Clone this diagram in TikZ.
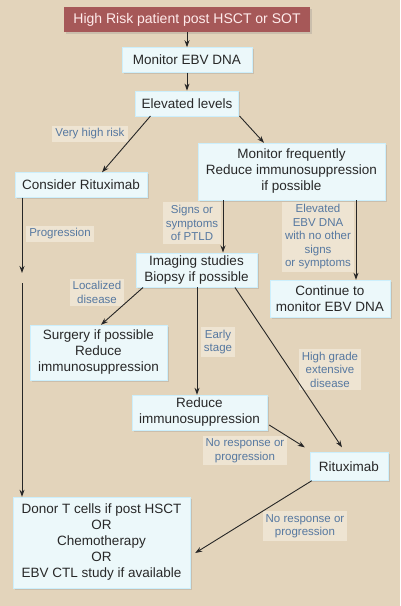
\documentclass[tikz,border=0pt]{standalone}
\usepackage{fontspec}
\setmainfont{Liberation Sans}
\usepackage{xcolor}
\usetikzlibrary{arrows.meta, positioning, shadows}
\definecolor{paper}{RGB}{227,212,187}
\definecolor{boxfill}{RGB}{236,248,250}
\definecolor{boxtext}{RGB}{40,40,40}
\definecolor{riskred}{RGB}{166,88,88}
\definecolor{notebg}{RGB}{238,228,210}
\definecolor{noteblue}{RGB}{86,120,160}

\begin{document}
\begin{tikzpicture}[x=1pt, y=-1pt,
        box/.style={rectangle, draw=white!80!cyan, fill=boxfill, align=center, text=boxtext, inner xsep=5pt, inner ysep=3pt, minimum height=25pt, font=\fontsize{13.5}{16}\selectfont, drop shadow={opacity=0.25, shadow xshift=1.5pt, shadow yshift=-1.5pt}},
        riskbox/.style={rectangle, fill=riskred, text=white!92!red, align=center, minimum height=25pt, font=\fontsize{14}{16}\selectfont, drop shadow={opacity=0.25, shadow xshift=1.5pt, shadow yshift=-1.5pt}},
        note/.style={rectangle, fill=notebg, text=noteblue, align=center, inner sep=3pt, font=\fontsize{11.5}{13.5}\selectfont},
        arrow/.style={-{Stealth[length=7pt, width=5pt]}, line width=0.9pt, draw=black!85},
        link/.style={line width=0.9pt, draw=black!85}
    ]
        \fill[paper] (0,0) rectangle (400,606);
        \useasboundingbox (0,0) rectangle (400,606);

        \node[riskbox, minimum width=246pt] (risk) at (187,19.5) {High Risk patient post HSCT or SOT};
        \node[box, minimum width=130pt, below=15pt of risk] (mon) {Monitor EBV DNA};
        \node[box, minimum width=103pt, below=18pt of mon] (elev) {Elevated levels};
        \node[box, minimum width=132pt] (consider) at (81,185) {Consider Rituximab};
        \node[box, minimum width=187pt, minimum height=57pt] (monf) at (291.5,171.5) {Monitor frequently\\Reduce immunosuppression\\if possible};
        \node[box, minimum width=121pt, minimum height=34pt] (img) at (196.5,270) {Imaging studies\\Biopsy if possible};
        \node[box, minimum width=120pt, minimum height=37pt] (cont) at (330,298.5) {Continue to\\monitor EBV DNA};
        \node[box, minimum width=137pt, minimum height=55pt] (surg) at (98.5,352.5) {Surgery if possible\\Reduce\\immunosuppression};
        \node[box, minimum width=135pt, minimum height=35pt] (red) at (199.5,412.5) {Reduce\\immunosuppression};
        \node[box, minimum width=78pt, minimum height=28pt] (rit) at (349,466.5) {Rituximab};
        \node[box, minimum width=177pt, minimum height=91pt] (donor) at (101.5,542.5) {Donor T cells if post HSCT\\OR\\Chemotherapy\\OR\\EBV CTL study if available};

        \coordinate (gapA) at (22,273);
        \coordinate (gapB) at (22,283);

        \node[note] (vhr) at (90,134) {Very high risk};
        \node[note] (prog) at (60,234) {Progression};
        \node[note] (signs) at (192,223) {Signs or\\symptoms\\of PTLD};
        \node[note] (noother) at (318,237) {Elevated\\EBV DNA\\with no other\\signs\\or symptoms};
        \node[note] (local) at (97,292.5) {Localized\\disease};
        \node[note] (early) at (218,342) {Early\\stage};
        \node[note] (high) at (330,369.5) {High grade\\extensive\\disease};
        \node[note] (nores1) at (245,450.5) {No response or\\progression};
        \node[note] (nores2) at (305,526) {No response or\\progression};

        \draw[arrow] (risk.south) -- (mon.north);
        \draw[arrow] (mon.south) -- (elev.north);
        \draw[arrow] ([xshift=-36.5pt]elev.south) -- ([xshift=21pt]consider.north);
        \draw[arrow] ([xshift=52.5pt]elev.south) -- ([xshift=-27.5pt]monf.north);
        \draw[arrow] ([xshift=-68.5pt]monf.south) -- ([xshift=26.5pt]img.north);
        \draw[arrow] ([xshift=64.5pt]monf.south) -- ([xshift=26pt]cont.north);
        \draw[arrow] ([xshift=-59pt]consider.south) -- (gapA);
        \draw[arrow] (gapB) -- ([xshift=-79.5pt]donor.north);
        \draw[arrow] ([xshift=-53.5pt]img.south) -- ([xshift=2.5pt]surg.north);
        \draw[arrow] ([xshift=0.5pt]img.south) -- ([xshift=-2.5pt]red.north);
        \draw[arrow] ([xshift=38.5pt]img.south) -- ([shift={(-7pt,5pt)}]rit.north);
        \draw[arrow] ([shift={(2pt,-12.5pt)}]red.east) -- ([shift={(-5pt,5pt)}]rit.north west);
        \draw[arrow] ([xshift=2pt]rit.south west) -- ([shift={(5pt,-10.5pt)}]donor.east);
    \end{tikzpicture}
\end{document}
